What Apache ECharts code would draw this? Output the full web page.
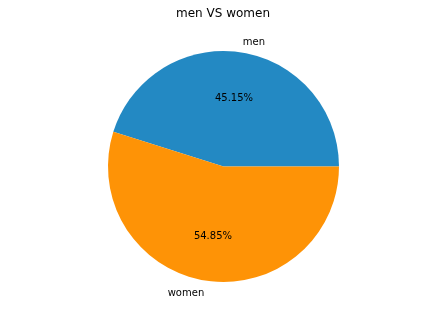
<!DOCTYPE html>
<html><head><meta charset="utf-8">
<script src="https://cdn.jsdelivr.net/npm/echarts@6/dist/echarts.min.js"></script>
<style>html,body{margin:0;padding:0;background:#fff}#c{width:446px;height:318px}</style>
</head><body><div id="c"></div>
<script>
const categories = ['men', 'women'];
const values = [45.15, 54.85];
const colors = ['#2389c3', '#fe9306'];
const titleText = 'men VS women';

const chart = echarts.init(document.getElementById('c'), null, {renderer: 'canvas'});
const FONT = 'DejaVu Sans';
const C = [223.5, 166.5];
const R = 115.5;
const total = values.reduce((a, b) => a + b, 0);
const data = categories.map((n, i) => ({name: n, value: values[i], itemStyle: {color: colors[i]}}));
const hidden = categories.map((n, i) => ({name: n, value: values[i], itemStyle: {color: 'transparent'}}));
const common = {type: 'pie', center: C, startAngle: 0, clockwise: false, avoidLabelOverlap: false,
  animation: false, silent: true, emphasis: {disabled: true}};
chart.setOption({
  backgroundColor: '#fff',
  title: {text: titleText, left: 'center', top: 8, padding: 0,
    textStyle: {fontFamily: FONT, fontSize: 12, fontWeight: 'normal', color: '#000'}},
  series: [
    Object.assign({}, common, {
      radius: [0, R], data: data, z: 2,
      label: {show: false}, labelLine: {show: false}
    }),
    Object.assign({}, common, {
      radius: [0, R * 1.15], center: [C[0], C[1] + 1], data: hidden, z: 3,
      label: {show: true, position: 'inside', color: '#000', fontFamily: FONT, fontSize: 10,
        formatter: p => (p.value / total * 100).toFixed(2) + '%'},
      labelLine: {show: false}
    }),
    Object.assign({}, common, {
      radius: [0, R * 1.1], center: [C[0], C[1] + 1], data: hidden, z: 3,
      label: {show: true, position: 'outside', color: '#000', fontFamily: FONT, fontSize: 10,
        distanceToLabelLine: 0, formatter: '{b}'},
      labelLine: {show: false, length: 0, length2: 0}
    })
  ]
});
</script></body></html>
